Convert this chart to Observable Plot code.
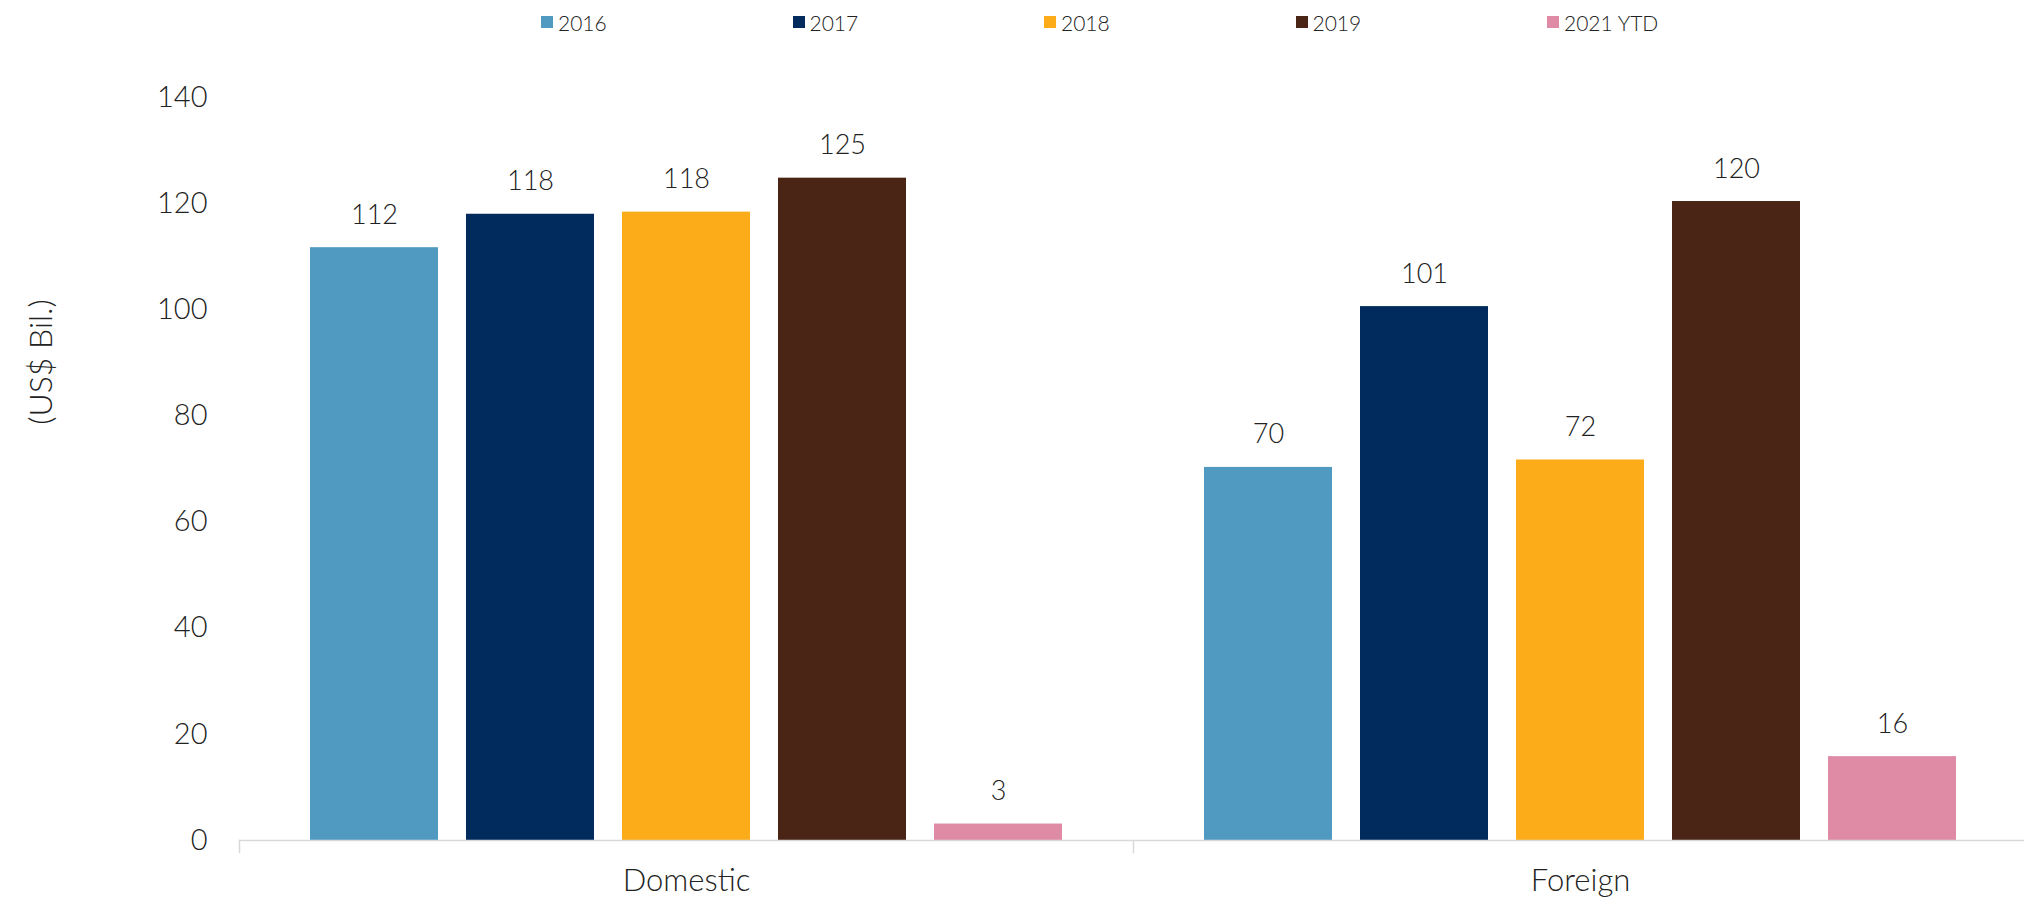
<!DOCTYPE html>
<html>
<head>
<meta charset="utf-8">
<script src="https://cdn.jsdelivr.net/npm/d3@7"></script>
<script src="https://cdn.jsdelivr.net/npm/@observablehq/plot@0.6"></script>
<style>
  html, body { margin: 0; padding: 0; background: #fff; }
  body { width: 2024px; height: 908px; position: relative; overflow: hidden; font-family: Lato, "Open Sans", sans-serif; font-weight: 300; color: #222; }
  #legend { height: 44px; display: flex; align-items: center; padding-left: 541px; box-sizing: border-box; }
  .item { width: 251.5px; display: flex; align-items: center; font-size: 21px; }
  .sw { width: 12px; height: 12px; margin-right: 5px; }
  #ylabel { position: absolute; left: 39px; top: 362px; transform: translate(-50%, -50%) rotate(-90deg); font-size: 32px; white-space: nowrap; }
</style>
</head>
<body>
<div id="legend"></div>
<div id="chart"></div>
<div id="ylabel">(US$ Bil.)</div>
<script>
const categories = ["Domestic", "Foreign"];
const years = ["2016", "2017", "2018", "2019", "2021 YTD"];
const domestic = [111.7, 118.0, 118.4, 124.8, 3.1];
const foreign = [70.3, 100.6, 71.7, 120.4, 15.8];
const colors = ["#509AC2", "#002B5C", "#FDAC19", "#4A2516", "#DF8BA6"];
const yTicks = [0, 20, 40, 60, 80, 100, 120, 140];
const yLabel = "(US$ Bil.)";

const series = {Domestic: domestic, Foreign: foreign};
const data = categories.flatMap(cat => years.map((year, i) => ({cat, year, value: series[cat][i]})));

// legend
const legend = d3.select("#legend");
years.forEach((y, i) => {
  const it = legend.append("div").attr("class", "item");
  it.append("div").attr("class", "sw").style("background", colors[i]);
  it.append("span").text(y);
});
d3.select("#ylabel").text(yLabel);

const fmt = d3.format(".0f");

const chart = Plot.plot({
  width: 2024,
  height: 864,
  marginLeft: 238,
  marginRight: -3,
  marginTop: 53,
  marginBottom: 68,
  style: {fontFamily: "Lato, 'Open Sans', sans-serif", fontWeight: 300, color: "#222", background: "#fff"},
  fx: {domain: categories, padding: 0, label: null},
  x: {domain: years, paddingInner: 0.182, paddingOuter: 0.444, axis: null},
  y: {domain: [0, 140], ticks: yTicks, label: null},
  color: {domain: years, range: colors},
  marks: [
    Plot.barY(data, {fx: "cat", x: "year", y: "value", fill: "year"}),
    Plot.text(data, {fx: "cat", x: "year", y: "value", text: d => fmt(d.value), lineAnchor: "bottom", dy: -24, fontSize: 27, fill: "#222"}),
    Plot.ruleY([0], {stroke: "#d9d9d9", strokeWidth: 1.5}),
    Plot.frame({anchor: "left", stroke: "#d9d9d9", strokeWidth: 1.5, insetTop: 743, insetBottom: -12}),
    Plot.axisY({ticks: yTicks, tickSize: 0, tickPadding: 32, fontSize: 29, label: null}),
    Plot.axisFx({anchor: "bottom", tickSize: 0, tickPadding: 28, fontSize: 31, label: null})
  ]
});
document.getElementById("chart").appendChild(chart);
</script>
</body>
</html>
